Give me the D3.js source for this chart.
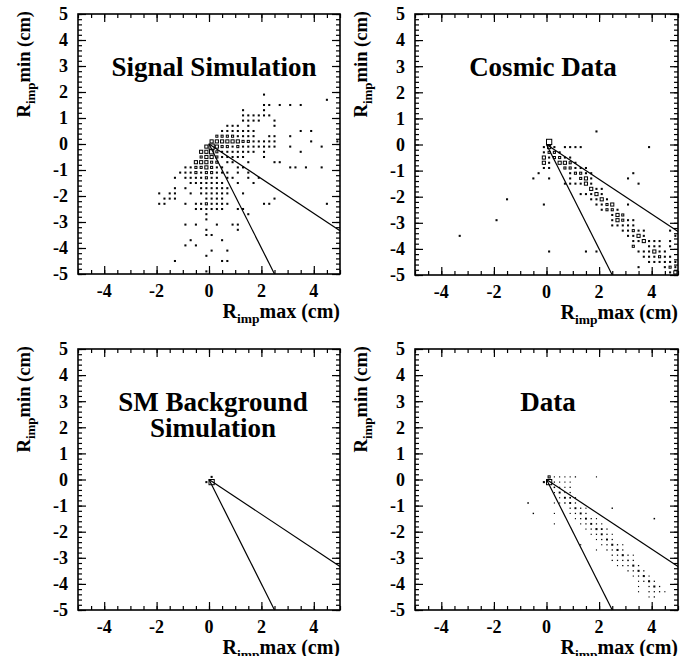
<!DOCTYPE html>
<html>
<head>
<meta charset="utf-8">
<script src="https://cdn.jsdelivr.net/npm/d3@7"></script>
<style>
  html, body { margin: 0; padding: 0; background: #fff; }
  svg { display: block; }
  text { font-family: "Liberation Serif", "Times New Roman", serif; font-weight: bold; fill: #000; }
</style>
</head>
<body>
<svg id="chart" width="691" height="656"></svg>
<script>
// ---- data -------------------------------------------------------------
// 2D histograms of R_imp(min) vs R_imp(max), 0.2 cm bins: [x centre, y centre, entries]
const panelTitles = [["Signal Simulation"], ["Cosmic Data"], ["SM Background", "Simulation"], ["Data"]];
const xTickValues = [-4, -2, 0, 2, 4];
const yTickValues = [5, 4, 3, 2, 1, 0, -1, -2, -3, -4, -5];
const xAxisTitle = ["R", "imp", "max (cm)"];
const yAxisTitle = ["R", "imp", "min (cm)"];
// selection cut lines drawn on every panel
const cutLines = [[[0, 0], [2.5, -5]], [[0, 0], [5, -10 / 3]]];

const signalBins = [
  [2.1,1.9,1],[4.5,1.7,1],
  [2.1,1.5,1],[2.3,1.5,1],[2.7,1.5,1],[3.1,1.5,1],[3.5,1.5,1],
  [1.3,1.3,1],[2.1,1.3,1],
  [1.3,1.1,1],[1.5,1.1,1],[1.7,1.1,1],[1.9,1.1,1],[2.1,1.1,1],[2.3,1.1,1],
  [1.3,0.9,1],[1.5,0.9,1],[1.7,0.9,1],[1.9,0.9,1],[2.5,0.9,1],
  [0.7,0.7,1],[0.9,0.7,1],[1.1,0.7,1],[1.5,0.7,1],[2.5,0.7,1],
  [0.5,0.5,1],[0.7,0.5,1],[0.9,0.5,1],[1.1,0.5,1],[1.3,0.5,1],[1.5,0.5,1],[1.7,0.5,1],[3.5,0.5,1],[3.9,0.5,1],
  [0.3,0.3,2],[0.5,0.3,2],[0.7,0.3,2],[0.9,0.3,2],[1.1,0.3,1],[1.3,0.3,1],[1.5,0.3,1],[1.7,0.3,1],[2.3,0.3,1],[2.5,0.3,1],[3.1,0.3,1],
  [0.1,0.1,3],[0.3,0.1,3],[0.5,0.1,3],[0.7,0.1,3],[0.9,0.1,3],[1.1,0.1,3],[1.3,0.1,2],[1.5,0.1,2],[1.7,0.1,1],[1.9,0.1,1],[2.1,0.1,1],[2.3,0.1,1],[2.5,0.1,1],[3.9,0.1,1],[4.9,0.1,1],
  [-0.1,-0.1,3],[0.1,-0.1,5],[0.3,-0.1,3],[0.5,-0.1,2],[0.7,-0.1,2],[0.9,-0.1,1],[1.1,-0.1,2],[1.3,-0.1,1],[1.5,-0.1,1],[1.7,-0.1,1],[1.9,-0.1,1],[2.1,-0.1,1],[2.3,-0.1,1],[2.5,-0.1,1],[3.1,-0.1,1],[4.3,-0.1,1],
  [-0.3,-0.3,3],[-0.1,-0.3,3],[0.1,-0.3,4],[0.3,-0.3,2],[0.5,-0.3,1],[0.7,-0.3,1],[0.9,-0.3,1],[1.1,-0.3,1],[1.3,-0.3,1],[1.5,-0.3,1],[1.7,-0.3,1],[2.1,-0.3,1],[3.5,-0.3,1],
  [-0.3,-0.5,2],[-0.1,-0.5,3],[0.1,-0.5,3],[0.3,-0.5,2],[0.5,-0.5,1],[0.7,-0.5,1],[0.9,-0.5,1],[1.1,-0.5,1],[1.3,-0.5,1],[2.1,-0.5,1],
  [-0.5,-0.7,3],[-0.3,-0.7,3],[-0.1,-0.7,3],[0.1,-0.7,2],[0.3,-0.7,2],[0.7,-0.7,1],[0.9,-0.7,1],[1.5,-0.7,1],[2.5,-0.7,1],[2.7,-0.7,1],
  [-0.9,-0.9,1],[-0.7,-0.9,1],[-0.5,-0.9,2],[-0.3,-0.9,2],[-0.1,-0.9,3],[0.1,-0.9,2],[0.3,-0.9,1],[0.5,-0.9,1],[1.1,-0.9,1],[1.3,-0.9,1],[3.1,-0.9,1],[3.3,-0.9,1],[3.7,-0.9,1],[4.3,-0.9,1],
  [-1.1,-1.1,1],[-0.9,-1.1,1],[-0.7,-1.1,1],[-0.5,-1.1,2],[-0.3,-1.1,1],[-0.1,-1.1,2],[0.1,-1.1,2],[0.3,-1.1,1],[0.5,-1.1,1],[0.7,-1.1,1],[1.1,-1.1,1],[1.5,-1.1,1],
  [-1.3,-1.3,1],[-0.9,-1.3,1],[-0.7,-1.3,1],[-0.5,-1.3,1],[-0.3,-1.3,1],[-0.1,-1.3,2],[0.1,-1.3,1],[0.3,-1.3,1],[0.7,-1.3,1],[0.9,-1.3,1],[1.5,-1.3,1],[1.9,-1.3,1],
  [-0.7,-1.5,1],[-0.5,-1.5,1],[-0.3,-1.5,1],[-0.1,-1.5,1],[0.1,-1.5,1],[0.3,-1.5,1],[0.5,-1.5,1],[1.1,-1.5,1],[1.7,-1.5,1],
  [-1.3,-1.7,1],[-0.9,-1.7,1],[-0.3,-1.7,1],[-0.1,-1.7,1],[0.1,-1.7,1],[0.3,-1.7,1],[0.5,-1.7,1],[0.7,-1.7,1],
  [-1.9,-1.9,1],[-1.5,-1.9,1],[-1.3,-1.9,1],[-0.7,-1.9,1],[-0.3,-1.9,1],[-0.1,-1.9,1],[0.1,-1.9,1],[0.3,-1.9,1],[0.5,-1.9,1],[0.7,-1.9,1],[1.3,-1.9,1],
  [-1.7,-2.1,1],[-1.5,-2.1,1],[-1.3,-2.1,1],[-0.1,-2.1,1],[0.1,-2.1,1],[0.3,-2.1,1],[0.5,-2.1,1],[2.5,-2.1,1],
  [-1.9,-2.3,1],[-1.7,-2.3,1],[-0.9,-2.3,1],[-0.5,-2.3,1],[-0.3,-2.3,1],[-0.1,-2.3,2],[0.1,-2.3,1],[0.3,-2.3,1],[0.5,-2.3,1],[0.7,-2.3,1],[2.1,-2.3,1],[2.3,-2.3,1],[4.5,-2.3,1],
  [-0.5,-2.5,1],[-0.3,-2.5,1],[-0.1,-2.5,1],[0.1,-2.5,1],[0.3,-2.5,1],[0.5,-2.5,1],[1.1,-2.5,1],[1.3,-2.5,1],
  [-0.1,-2.7,1],[1.5,-2.7,1],
  [-0.1,-2.9,1],
  [-0.9,-3.1,1],[-0.5,-3.1,1],[0.3,-3.1,1],[0.9,-3.1,1],[1.1,-3.1,1],
  [-0.1,-3.3,1],[1.1,-3.3,1],
  [-0.1,-3.5,1],[0.1,-3.5,1],
  [-0.7,-3.7,1],[0.5,-3.7,1],
  [-0.9,-3.9,1],[-0.5,-3.9,1],
  [0.1,-4.1,1],[0.7,-4.1,1],
  [-0.1,-4.3,1],
  [-1.3,-4.5,1],[0.5,-4.5,1],[0.7,-4.5,1],
  [-0.1,-4.9,1]
];

const cosmicBins = [
  [1.9,0.5,1],[0.1,0.1,5],
  [-0.1,-0.1,1],[0.1,-0.1,3],[0.3,-0.1,1],[0.7,-0.1,1],[0.9,-0.1,1],[1.1,-0.1,1],[1.3,-0.1,1],[3.9,-0.1,1],
  [-0.1,-0.3,1],[0.1,-0.3,2],[0.3,-0.3,2],[0.5,-0.3,1],
  [-0.1,-0.5,3],[0.1,-0.5,1],[0.3,-0.5,2],[0.5,-0.5,2],[0.7,-0.5,1],[0.9,-0.5,1],
  [-0.1,-0.7,3],[0.1,-0.7,1],[0.5,-0.7,3],[0.7,-0.7,3],[0.9,-0.7,2],[1.1,-0.7,1],
  [-0.1,-0.9,1],[0.1,-0.9,1],[0.7,-0.9,2],[0.9,-0.9,2],[1.1,-0.9,1],[1.3,-0.9,1],[1.5,-0.9,1],
  [-0.3,-1.1,1],[0.9,-1.1,1],[1.1,-1.1,2],[1.3,-1.1,2],[1.5,-1.1,1],[1.7,-1.1,1],[3.3,-1.1,1],
  [-0.5,-1.3,1],[0.1,-1.3,1],[0.9,-1.3,1],[1.3,-1.3,2],[1.5,-1.3,3],[1.7,-1.3,1],[3.1,-1.3,1],
  [0.7,-1.5,1],[0.9,-1.5,1],[1.1,-1.5,1],[1.3,-1.5,1],[1.5,-1.5,3],[1.7,-1.5,1],[3.5,-1.5,1],
  [1.7,-1.7,3],[1.9,-1.7,1],[2.1,-1.7,1],
  [1.3,-1.9,1],[1.5,-1.9,1],[1.7,-1.9,1],[1.9,-1.9,3],[2.1,-1.9,1],
  [-1.5,-2.1,1],[1.7,-2.1,1],[1.9,-2.1,1],[2.1,-2.1,3],[2.3,-2.1,1],
  [-0.1,-2.3,1],[1.9,-2.3,1],[2.1,-2.3,1],[2.3,-2.3,2],[2.5,-2.3,3],[3.1,-2.3,1],
  [2.1,-2.5,1],[2.3,-2.5,2],[2.5,-2.5,2],[2.7,-2.5,1],
  [2.5,-2.7,1],[2.7,-2.7,3],[2.9,-2.7,2],
  [-1.9,-2.9,1],[2.5,-2.9,1],[2.7,-2.9,3],[2.9,-2.9,2],[3.1,-2.9,1],[3.3,-2.9,1],
  [2.5,-3.1,1],[2.7,-3.1,1],[2.9,-3.1,1],[3.1,-3.1,1],[3.3,-3.1,1],
  [2.9,-3.3,1],[3.1,-3.3,1],[3.3,-3.3,2],[3.5,-3.3,1],[3.7,-3.3,1],[4.7,-3.3,1],
  [-3.3,-3.5,1],[3.1,-3.5,1],[3.3,-3.5,1],[3.5,-3.5,3],[3.7,-3.5,1],[4.9,-3.5,1],
  [3.3,-3.7,1],[3.5,-3.7,1],[3.7,-3.7,3],[3.9,-3.7,1],[4.1,-3.7,1],[4.3,-3.7,1],[4.7,-3.7,1],
  [3.3,-3.9,2],[3.9,-3.9,1],[4.1,-3.9,1],[4.3,-3.9,1],[4.7,-3.9,1],
  [0.1,-4.1,1],[1.5,-4.1,1],[1.9,-4.1,1],[3.5,-4.1,1],[3.7,-4.1,1],[3.9,-4.1,1],[4.1,-4.1,3],[4.3,-4.1,1],[4.5,-4.1,1],
  [3.7,-4.3,1],[3.9,-4.3,1],[4.1,-4.3,1],[4.3,-4.3,2],[4.5,-4.3,1],[4.7,-4.3,1],
  [3.9,-4.5,1],[4.1,-4.5,1],[4.3,-4.5,1],[4.5,-4.5,1],[4.7,-4.5,1],[4.9,-4.5,1],
  [3.5,-4.7,1],[4.5,-4.7,1],[4.7,-4.7,2],[4.9,-4.7,1],
  [4.7,-4.9,1],[4.9,-4.9,3]
];

const smBackgroundBins = [
  [0.1,-0.1,20],[0.1,0.1,4],[-0.1,-0.1,4]
];

const dataBins = [
  [0.1,-0.1,40],[0.1,0.1,16],[-0.1,-0.1,8],
  [0.3,0.1,1],[0.5,0.1,1],[0.7,0.1,1],[0.9,0.1,1],[1.1,0.1,2],[1.9,0.1,1],
  [0.3,-0.1,2],[0.5,-0.1,1],[0.7,-0.1,1],[0.9,-0.1,1],
  [0.3,-0.3,4],[0.5,-0.3,1],[0.7,-0.3,1],[0.9,-0.3,2],
  [0.3,-0.5,1],[0.5,-0.5,7],[0.7,-0.5,1],[0.9,-0.5,2],
  [0.5,-0.7,1],[0.7,-0.7,7],[0.9,-0.7,5],[1.1,-0.7,2],
  [-0.7,-0.9,4],[0.3,-0.9,1],[0.5,-0.9,1],[0.7,-0.9,3],[0.9,-0.9,7],[1.1,-0.9,2],
  [0.9,-1.1,2],[1.1,-1.1,7],[1.3,-1.1,2],[1.5,-1.1,1],[2.5,-1.1,3],
  [-0.5,-1.3,3],[0.3,-1.3,1],[0.9,-1.3,1],[1.1,-1.3,2],[1.3,-1.3,7],[1.5,-1.3,2],
  [1.1,-1.5,1],[1.3,-1.5,2],[1.5,-1.5,7],[1.7,-1.5,2],[1.9,-1.5,1],[4.1,-1.5,4],
  [0.3,-1.7,1],[1.3,-1.7,1],[1.5,-1.7,2],[1.7,-1.7,7],[1.9,-1.7,2],[2.1,-1.7,1],
  [1.5,-1.9,1],[1.7,-1.9,2],[1.9,-1.9,8],[2.1,-1.9,6],[2.3,-1.9,2],
  [1.7,-2.1,1],[1.9,-2.1,2],[2.1,-2.1,7],[2.3,-2.1,2],[2.5,-2.1,1],
  [1.9,-2.3,1],[2.1,-2.3,2],[2.3,-2.3,7],[2.5,-2.3,2],
  [1.3,-2.5,1],[2.1,-2.5,1],[2.3,-2.5,2],[2.5,-2.5,8],[2.7,-2.5,2],[2.9,-2.5,1],
  [1.9,-2.7,1],[2.3,-2.7,2],[2.5,-2.7,2],[2.7,-2.7,8],[2.9,-2.7,2],
  [2.5,-2.9,2],[2.7,-2.9,2],[2.9,-2.9,8],[3.1,-2.9,2],[3.3,-2.9,1],
  [2.5,-3.1,2],[2.7,-3.1,2],[2.9,-3.1,2],[3.1,-3.1,4],[3.3,-3.1,2],
  [2.7,-3.3,1],[2.9,-3.3,2],[3.1,-3.3,2],[3.3,-3.3,8],[3.5,-3.3,2],
  [3.1,-3.5,2],[3.3,-3.5,2],[3.5,-3.5,8],[3.7,-3.5,2],
  [3.3,-3.7,1],[3.5,-3.7,2],[3.7,-3.7,8],[3.9,-3.7,1],
  [3.5,-3.9,1],[3.7,-3.9,2],[3.9,-3.9,8],[4.1,-3.9,2],
  [3.5,-4.1,1],[3.9,-4.1,2],[4.1,-4.1,8],[4.3,-4.1,2],
  [3.5,-4.3,1],[3.9,-4.3,2],[4.1,-4.3,2],[4.3,-4.3,2],[4.5,-4.3,1],
  [3.9,-4.5,1],[4.1,-4.5,2]
];

const panelBins = [signalBins, cosmicBins, smBackgroundBins, dataBins];

// ---- layout -----------------------------------------------------------
const frames = [
  { x0: 78,  x1: 340, y0: 14,  y1: 274, titleX: 214 },
  { x0: 415, x1: 678, y0: 14,  y1: 275, titleX: 543 },
  { x0: 78,  x1: 340, y0: 349, y1: 610, titleX: 213 },
  { x0: 415, x1: 678, y0: 349, y1: 610, titleX: 548 }
];
const domain = [-5, 5];
const binWidth = 0.2;

const svg = d3.select("#chart");

frames.forEach((f, i) => {
  const g = svg.append("g");
  const x = d3.scaleLinear().domain(domain).range([f.x0, f.x1]);
  const y = d3.scaleLinear().domain(domain).range([f.y1, f.y0]);
  const bins = panelBins[i];
  const cmax = d3.max(bins, d => d[2]);
  const bw = x(binWidth) - x(0);
  const bh = y(0) - y(binWidth);

  // box-style cells: side proportional to entries / max entries
  g.append("g").selectAll("rect").data(bins).join("rect")
    .attr("x", d => x(d[0]) - bw * d[2] / cmax / 2)
    .attr("y", d => y(d[1]) - bh * d[2] / cmax / 2)
    .attr("width", d => bw * d[2] / cmax)
    .attr("height", d => bh * d[2] / cmax)
    .attr("fill", "none")
    .attr("stroke", "#000")
    .attr("stroke-width", 1);

  // cut lines
  g.append("g").selectAll("line").data(cutLines).join("line")
    .attr("x1", d => x(d[0][0])).attr("y1", d => y(d[0][1]))
    .attr("x2", d => x(d[1][0])).attr("y2", d => y(d[1][1]))
    .attr("stroke", "#000").attr("stroke-width", 1.2);

  // axes with ticks on all four sides
  const xMinor = d3.range(-5, 5.001, 0.5);
  const yMinor = d3.range(-5, 5.001, 0.2);
  const tickStyle = sel => sel.call(s => s.select(".domain").remove())
    .call(s => s.selectAll(".tick line").attr("stroke", "#000").attr("stroke-width", 1.2));

  const majorLen = 8, minorLen = 4;
  g.append("g").attr("transform", `translate(0,${f.y1})`)
    .call(d3.axisTop(x).tickValues(xMinor).tickSize(minorLen).tickFormat("")).call(tickStyle);
  g.append("g").attr("transform", `translate(0,${f.y1})`)
    .call(d3.axisTop(x).tickValues(xTickValues).tickSize(majorLen).tickFormat("")).call(tickStyle);
  g.append("g").attr("transform", `translate(0,${f.y0})`)
    .call(d3.axisBottom(x).tickValues(xMinor).tickSize(minorLen).tickFormat("")).call(tickStyle);
  g.append("g").attr("transform", `translate(0,${f.y0})`)
    .call(d3.axisBottom(x).tickValues(xTickValues).tickSize(majorLen).tickFormat("")).call(tickStyle);
  g.append("g").attr("transform", `translate(${f.x0},0)`)
    .call(d3.axisRight(y).tickValues(yMinor).tickSize(minorLen).tickFormat("")).call(tickStyle);
  g.append("g").attr("transform", `translate(${f.x0},0)`)
    .call(d3.axisRight(y).tickValues(yTickValues).tickSize(majorLen).tickFormat("")).call(tickStyle);
  g.append("g").attr("transform", `translate(${f.x1},0)`)
    .call(d3.axisLeft(y).tickValues(yMinor).tickSize(minorLen).tickFormat("")).call(tickStyle);
  g.append("g").attr("transform", `translate(${f.x1},0)`)
    .call(d3.axisLeft(y).tickValues(yTickValues).tickSize(majorLen).tickFormat("")).call(tickStyle);

  // frame
  g.append("rect").attr("x", f.x0).attr("y", f.y0)
    .attr("width", f.x1 - f.x0).attr("height", f.y1 - f.y0)
    .attr("fill", "none").attr("stroke", "#000").attr("stroke-width", 1.6);

  // tick labels
  g.append("g").selectAll("text").data(xTickValues).join("text")
    .attr("x", d => x(d)).attr("y", f.y1 + 23)
    .attr("text-anchor", "middle").attr("font-size", 18)
    .text(d => String(d));
  g.append("g").selectAll("text").data(yTickValues).join("text")
    .attr("x", f.x0 - 10).attr("y", d => y(d)).attr("dy", "0.35em")
    .attr("text-anchor", "end").attr("font-size", 18)
    .text(d => String(d));

  // axis titles
  const xt = g.append("text").attr("x", f.x1).attr("y", f.y1 + 44)
    .attr("text-anchor", "end").attr("font-size", 20);
  xt.append("tspan").text(xAxisTitle[0]);
  xt.append("tspan").attr("font-size", 13.5).attr("dy", 5).text(xAxisTitle[1]);
  xt.append("tspan").attr("dy", -5).text(xAxisTitle[2]);

  const yt = g.append("text")
    .attr("transform", `translate(${f.x0 - 48},${f.y0 - 3}) rotate(-90)`)
    .attr("text-anchor", "end").attr("font-size", 18.5);
  yt.append("tspan").text(yAxisTitle[0]);
  yt.append("tspan").attr("font-size", 13).attr("dy", 5).text(yAxisTitle[1]);
  yt.append("tspan").attr("dy", -5).text(yAxisTitle[2]);

  // panel title
  g.append("g").selectAll("text").data(panelTitles[i]).join("text")
    .attr("x", f.titleX).attr("y", (d, k) => f.y0 + 62 + k * 26)
    .attr("text-anchor", "middle").attr("font-size", 27)
    .text(d => d);
});
</script>
</body>
</html>
